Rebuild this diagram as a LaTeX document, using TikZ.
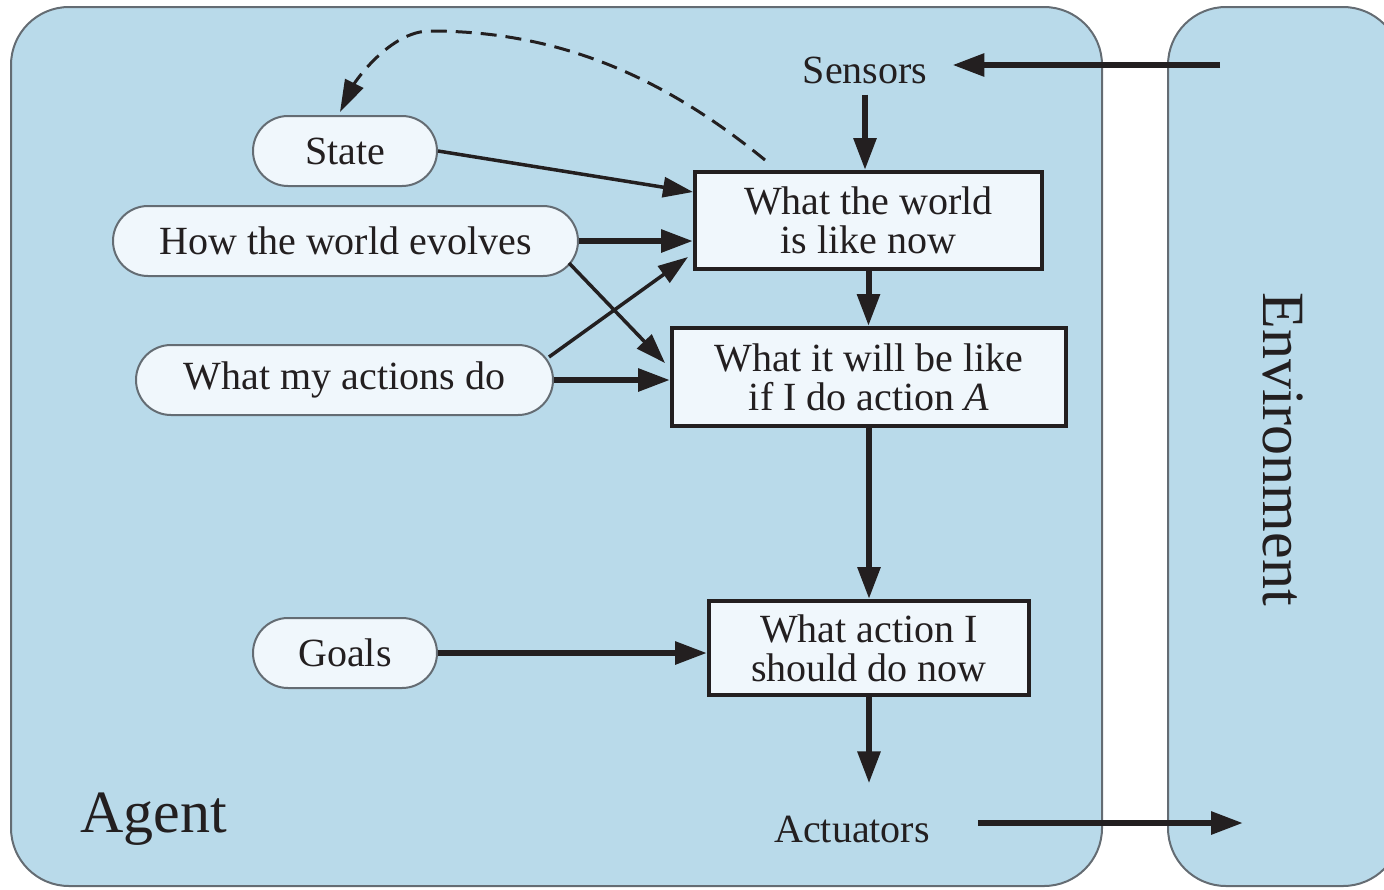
\documentclass[tikz,border=0pt]{standalone}
\usepackage{fontspec}
\setmainfont{Liberation Serif}
\usetikzlibrary{arrows.meta,calc}
\definecolor{agentbg}{RGB}{185,218,234}
\definecolor{boxbg}{RGB}{240,247,252}
\definecolor{ink}{RGB}{35,31,32}
\definecolor{edgegrey}{RGB}{100,108,115}
\begin{document}
\begin{tikzpicture}[x=1pt,y=-1pt,
  txt/.style={font=\fontsize{40}{39}\selectfont, text=ink},
  bigtxt/.style={font=\fontsize{60}{60}\selectfont, text=ink, inner sep=0pt},
  pill/.style={txt, draw=edgegrey, line width=2pt, fill=boxbg, rounded corners=35pt, minimum height=70pt, inner sep=0pt},
  stepbox/.style={txt, draw=ink, line width=4pt, fill=boxbg, align=center, inner sep=0pt},
  container/.style={draw=edgegrey, line width=2pt, fill=agentbg, rounded corners=58pt},
  thickarrow/.style={draw=ink, line width=6pt, -{Triangle[length=32pt,width=22pt]}},
  thinarrow/.style={draw=ink, line width=3.5pt, -{Triangle[length=30pt,width=20pt]}},
  dasharrow/.style={draw=ink, line width=3pt, dash pattern=on 16pt off 9pt, -{Triangle[length=32pt,width=20pt]}},
  ]
\useasboundingbox (0,0) rectangle (1384,889);

% containers
\path[container] (11,7) rectangle (1102,886);
\begin{scope}
  \clip (0,0) rectangle (1384,889);
  \path[container] (1168,7) rectangle (1401,886);
\end{scope}

% labels
\node[bigtxt, anchor=base west] (Agent) at (80,832) {Agent};
\node[bigtxt, rotate=-90, anchor=base] (Env) at (1263,449) {Environment};
\node[txt, inner sep=0pt, anchor=base] (Sensors) at (865,83) {Sensors};
\node[txt, inner sep=0pt, anchor=base] (Actuators) at (852,842) {Actuators};

% pills
\node[pill, minimum width=184pt] (State) at (345,151) {State};
\node[pill, minimum width=465pt] (How) at (345.5,241) {How the world evolves};
\node[pill, minimum width=417pt] (Actions) at (344.5,380) {What my actions do};
\node[pill, minimum width=184pt] (Goals) at (345,653) {Goals};

% boxes
\node[stepbox, minimum width=347pt, minimum height=97pt] (World) at (868.5,220.5) {What the world\\is like now};
\node[stepbox, minimum width=394pt, minimum height=98pt] (Will) at (869,377) {What it will be like\\if I do action \textit{A}};
\node[stepbox, minimum width=320pt, minimum height=94pt] (Action) at (869,648) {What action I\\should do now};

% free ends
\coordinate (envOut) at (1220,65);
\coordinate (envIn) at (1243,823);

% connectors
\draw[thickarrow, shorten >=25pt] (envOut) -- (envOut -| Sensors.east);
\draw[thickarrow, shorten <=11pt] (Sensors.south) -- (Sensors.south |- World.north);
\draw[thickarrow] (World.south) -- (World.south |- Will.north);
\draw[thickarrow] (Will.south) -- (Will.south |- Action.north);
\draw[thickarrow, shorten >=32pt] (Action.south) -- (Action.south |- Actuators.north);
\draw[thickarrow, shorten <=48pt] (Actuators.east |- envIn) -- (envIn);

\draw[thinarrow] (State.east) -- ([yshift=28.5pt]World.west);
\draw[thickarrow] (How.east) -- (How.east -| World.west);
\draw[thinarrow] ([xshift=-10pt,yshift=-22pt]How.east) -- ([xshift=-5pt,yshift=14pt]Will.west);
\draw[thinarrow] ([xshift=-5pt,yshift=23pt]Actions.east) -- ([xshift=-5pt,yshift=-36.5pt]World.west);
\draw[thickarrow] (Actions.east) -- (Actions.east -| Will.west);
\draw[thickarrow] (Goals.east) -- (Goals.east -| Action.west);

\draw[dasharrow] ([xshift=-103.5pt,yshift=10pt]World.north)
  .. controls (664,77.5) and (560,31) .. (430,31)
  .. controls (390,31) and (355,82) .. ([xshift=-5pt,yshift=3pt]State.north);
\end{tikzpicture}
\end{document}
